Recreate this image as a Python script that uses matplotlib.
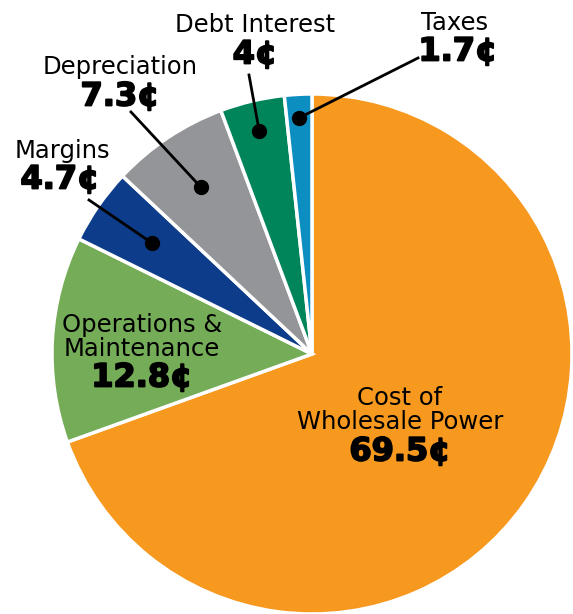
import numpy as np
import matplotlib.pyplot as plt
import matplotlib.patheffects as pe

W, H = 573, 614

categories = [
    "Cost of\nWholesale Power",
    "Operations &\nMaintenance",
    "Margins",
    "Depreciation",
    "Debt Interest",
    "Taxes",
]
values = [69.5, 12.8, 4.7, 7.3, 4, 1.7]
value_labels = ["69.5¢", "12.8¢", "4.7¢", "7.3¢", "4¢", "1.7¢"]
colors = ["#F7981F", "#75AC57", "#0D3D8A", "#949598", "#00845A", "#0C8EC0"]

# label layout in image pixels (x, y of name, y of value)
name_pos = [(400, 410), (142, 337), (62, 151), (120, 67), (255, 25), (455, 23)]
value_pos = [(400, 452), (142, 378), (60, 180), (120, 97), (255, 55), (458, 52)]
# where the leader line meets the text (None = label sits inside the slice)
line_end = [None, None, (89, 200), (131, 112), (249, 75), (418, 58)]
dot_frac = [None, None, 0.75, 0.77, 0.88, 0.91]

cx, cy, radius = 312, 354, 260


def flip(p):
    return p[0], H - p[1]


fig = plt.figure(figsize=(W / 100, H / 100), dpi=100)
ax = fig.add_axes([0, 0, 1, 1])

wedges, _ = ax.pie(
    values,
    colors=colors,
    startangle=90,
    counterclock=False,
    center=flip((cx, cy)),
    radius=radius,
    wedgeprops=dict(edgecolor="white", linewidth=2.5),
)

ax.set_xlim(0, W)
ax.set_ylim(0, H)
ax.set_aspect("equal")
ax.axis("off")

heavy = [pe.withStroke(linewidth=1.3, foreground="black")]

for i, w in enumerate(wedges):
    nx, ny = flip(name_pos[i])
    vx, vy = flip(value_pos[i])
    ax.text(nx, ny, categories[i], ha="center", va="center",
            fontsize=17.5, color="black", linespacing=1.03)
    ax.text(vx, vy, value_labels[i], ha="center", va="center",
            fontsize=23, fontweight="bold", color="black", path_effects=heavy)

    if line_end[i] is not None:
        mid = np.deg2rad((w.theta1 + w.theta2) / 2)
        r = dot_frac[i] * radius
        dx = w.center[0] + r * np.cos(mid)
        dy = w.center[1] + r * np.sin(mid)
        ex, ey = flip(line_end[i])
        ax.plot([dx, ex], [dy, ey], color="black", linewidth=2, zorder=5)
        ax.plot(dx, dy, "o", color="black", markersize=10, zorder=6)

fig.savefig("out.png", dpi=100)
